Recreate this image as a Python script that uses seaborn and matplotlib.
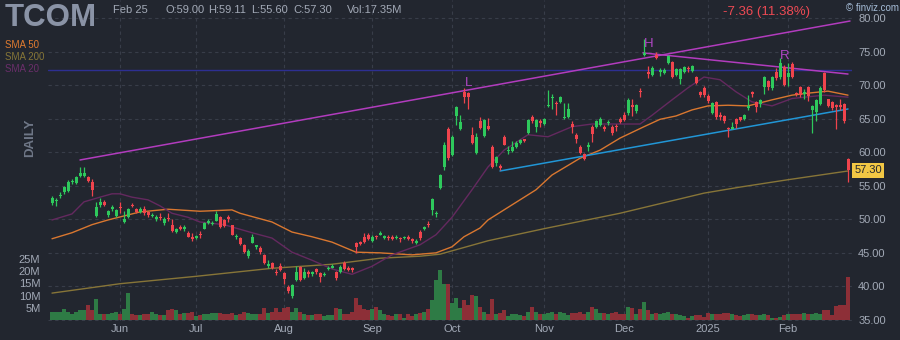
import numpy as np
import pandas as pd
import matplotlib
matplotlib.use("Agg")
import matplotlib.pyplot as plt
import matplotlib.transforms as mtransforms
import seaborn as sns

# ---------------- data ----------------
holidays = ["2024-05-27", "2024-06-19", "2024-07-04", "2024-09-02", "2024-11-28",
            "2024-12-25", "2025-01-01", "2025-01-09", "2025-01-20", "2025-02-17"]
start_date = "2024-05-08"
end_date = "2025-02-25"

opens = [
    52.4, 52.7, 53.4, 54.0, 54.2, 55.5, 55.4, 56.5, 56.4, 56.3,
    55.6, 50.5, 52.1, 52.6, 50.6, 51.6, 50.5, 51.9, 49.6, 50.3,
    52.2, 51.5, 51.1, 51.5, 51.1, 50.5, 50.1, 50.4, 49.4, 50.2,
    49.1, 48.1, 48.8, 48.6, 48.0, 47.3, 47.2, 47.8, 48.6, 49.5,
    49.3, 49.8, 50.3, 49.9, 50.3, 49.1, 47.3, 47.2, 46.2, 44.5,
    46.5, 45.9, 45.7, 44.7, 43.1, 43.5, 42.2, 43.0, 42.0, 39.9,
    38.6, 40.9, 42.9, 41.2, 42.1, 41.9, 42.6, 42.0, 41.7, 42.6,
    42.8, 42.1, 42.1, 43.5, 42.7, 42.7, 46.5, 46.6, 47.4, 47.6,
    46.7, 47.5, 47.7, 47.2, 47.4, 47.4, 47.2, 47.2, 47.2, 47.3,
    47.1, 46.5, 48.1, 48.6, 49.3, 51.4, 50.8, 54.7, 57.8, 63.5,
    59.6, 65.4, 63.5, 69.0, 68.8, 62.6, 59.9, 64.6, 62.4, 63.9,
    60.8, 58.4, 57.9, 62.3, 60.2, 60.2, 60.8, 61.4, 61.9, 62.9,
    65.2, 63.8, 64.6, 64.2, 66.9, 68.1, 67.4, 67.5, 65.1, 65.2,
    64.2, 62.6, 60.8, 59.7, 60.8, 63.8, 63.8, 64.1, 63.7, 64.3,
    63.8, 63.9, 64.9, 65.5, 65.8, 67.0, 66.1, 69.1, 74.5, 71.9,
    71.5, 74.5, 72.0, 71.8, 73.3, 73.4, 71.5, 70.9, 72.0, 72.6,
    72.1, 71.2, 69.0, 69.6, 68.4, 65.9, 67.5, 65.5, 65.4, 63.6,
    63.5, 64.9, 65.2, 64.9, 66.6, 68.9, 67.5, 67.2, 69.7, 70.6,
    69.6, 72.0, 71.2, 72.7, 71.2, 73.1, 68.8, 69.7, 68.7, 69.7,
    66.3, 66.0, 67.2, 71.8, 67.9, 67.5, 67.0, 67.0, 67.2, 59.0,
]
highs = [
    53.5, 53.2, 54.0, 55.0, 55.8, 56.0, 56.5, 57.8, 57.8, 56.4,
    56.0, 52.6, 53.2, 52.9, 51.4, 52.1, 51.6, 52.6, 51.3, 51.7,
    52.4, 51.7, 51.8, 52.0, 51.2, 51.0, 50.6, 50.9, 50.3, 51.0,
    50.0, 48.7, 49.2, 49.2, 48.2, 47.9, 47.7, 48.3, 49.6, 50.1,
    49.8, 51.2, 50.5, 50.0, 50.6, 49.2, 47.8, 47.3, 46.3, 45.5,
    47.8, 46.2, 46.0, 44.8, 43.9, 43.6, 42.6, 43.5, 42.1, 40.2,
    40.3, 43.0, 43.0, 42.8, 42.5, 42.3, 42.8, 42.1, 42.1, 43.0,
    43.3, 42.3, 43.2, 43.8, 43.0, 42.9, 46.6, 46.8, 48.0, 47.9,
    47.6, 47.7, 48.3, 47.7, 47.7, 47.6, 47.6, 47.3, 47.5, 47.7,
    47.2, 47.0, 48.4, 49.0, 49.8, 53.1, 51.3, 56.8, 61.5, 63.7,
    62.5, 66.9, 65.5, 69.6, 69.0, 63.8, 62.8, 65.2, 65.0, 65.1,
    61.0, 59.5, 58.2, 62.5, 60.9, 61.6, 61.6, 62.0, 62.0, 65.0,
    65.6, 65.0, 64.9, 65.1, 69.3, 68.6, 67.6, 68.4, 67.3, 67.4,
    64.6, 62.8, 61.0, 59.9, 61.5, 64.0, 64.8, 65.3, 64.1, 64.8,
    64.0, 64.2, 65.2, 66.0, 68.1, 68.0, 67.2, 69.6, 76.9, 72.8,
    72.8, 75.0, 72.6, 72.5, 74.5, 73.6, 72.6, 72.6, 72.9, 72.9,
    73.0, 71.4, 69.1, 69.8, 68.6, 67.5, 67.7, 66.0, 65.6, 63.8,
    64.5, 65.1, 65.3, 65.7, 68.5, 69.1, 67.7, 68.0, 71.4, 70.8,
    71.4, 72.6, 74.0, 73.0, 73.3, 73.4, 69.0, 69.9, 69.4, 69.9,
    67.0, 68.0, 69.8, 72.0, 68.0, 67.7, 67.2, 68.0, 67.4, 59.11,
]
lows = [
    52.2, 52.0, 53.2, 53.8, 54.0, 55.2, 55.3, 56.3, 56.3, 55.5,
    53.5, 50.3, 51.9, 52.0, 50.4, 51.3, 50.3, 50.9, 49.5, 50.2,
    51.8, 50.9, 51.0, 50.7, 50.4, 50.3, 49.7, 49.9, 49.2, 49.8,
    48.1, 48.0, 48.4, 48.2, 47.3, 46.8, 47.0, 47.2, 48.5, 49.3,
    49.1, 49.7, 48.7, 48.9, 49.6, 47.6, 47.0, 46.2, 45.0, 44.2,
    46.4, 45.6, 44.9, 43.4, 42.8, 42.6, 41.7, 42.3, 40.4, 39.0,
    38.3, 40.8, 40.8, 41.1, 41.4, 41.5, 41.9, 40.6, 41.6, 42.5,
    42.7, 41.0, 42.0, 42.5, 42.3, 42.2, 45.0, 46.1, 46.5, 46.9,
    46.6, 47.1, 47.6, 47.1, 46.9, 46.9, 47.0, 46.6, 47.0, 46.9,
    46.5, 46.3, 46.9, 48.4, 48.9, 50.7, 50.3, 54.5, 57.4, 58.8,
    59.4, 64.0, 63.3, 67.3, 66.5, 61.2, 59.7, 63.4, 62.2, 63.3,
    57.6, 58.0, 57.4, 61.0, 59.7, 60.0, 60.6, 61.2, 61.5, 62.7,
    64.4, 63.0, 63.7, 64.0, 66.8, 66.5, 65.5, 67.3, 65.0, 65.1,
    62.9, 61.4, 59.7, 58.8, 60.2, 61.5, 63.6, 63.9, 63.2, 64.0,
    62.6, 63.2, 64.3, 64.6, 65.6, 65.4, 65.9, 68.3, 74.3, 71.0,
    71.3, 73.9, 71.4, 71.6, 73.1, 71.0, 71.3, 70.2, 71.8, 71.9,
    72.0, 70.1, 68.3, 68.3, 67.3, 65.7, 65.0, 64.8, 64.4, 62.3,
    63.4, 63.6, 64.6, 64.8, 66.3, 68.3, 66.0, 66.7, 68.6, 69.2,
    69.3, 70.8, 70.9, 69.8, 69.9, 71.0, 68.4, 68.3, 67.9, 67.7,
    62.9, 64.7, 67.0, 69.0, 66.7, 66.3, 63.5, 66.3, 64.3, 55.6,
]
closes = [
    53.2, 52.9, 53.6, 54.8, 55.6, 55.7, 56.3, 56.9, 56.9, 55.7,
    54.4, 51.8, 52.6, 52.1, 51.2, 51.8, 51.4, 51.7, 50.0, 51.5,
    52.0, 51.1, 51.5, 50.9, 50.6, 50.7, 50.3, 50.2, 50.0, 50.0,
    48.3, 48.5, 48.6, 48.8, 47.4, 47.1, 47.5, 47.6, 49.4, 49.7,
    49.5, 50.8, 48.8, 49.0, 50.1, 47.7, 47.5, 46.3, 45.1, 45.3,
    47.4, 46.1, 45.1, 43.5, 43.3, 42.7, 42.0, 42.4, 41.1, 39.3,
    40.2, 42.1, 40.9, 42.1, 41.9, 42.1, 42.1, 41.4, 41.9, 42.8,
    43.0, 41.2, 42.9, 42.6, 42.5, 42.5, 45.9, 46.3, 46.6, 47.0,
    47.4, 47.3, 47.9, 47.5, 47.2, 47.1, 47.4, 47.0, 47.3, 47.0,
    46.7, 46.7, 47.2, 48.8, 49.2, 53.0, 51.0, 56.6, 61.1, 59.1,
    62.3, 66.7, 64.5, 68.2, 68.2, 61.4, 62.3, 63.6, 64.8, 63.5,
    57.8, 59.3, 57.7, 61.1, 60.4, 60.8, 61.4, 61.8, 61.7, 64.8,
    64.6, 64.8, 64.4, 64.9, 67.1, 68.3, 67.2, 68.2, 65.3, 66.4,
    63.8, 62.0, 59.9, 59.0, 61.0, 62.7, 64.6, 64.9, 63.5, 64.5,
    62.9, 63.7, 64.5, 64.8, 67.8, 66.7, 67.0, 68.9, 74.8, 71.7,
    72.6, 74.0, 72.2, 72.2, 74.3, 71.2, 72.4, 72.4, 72.7, 72.4,
    72.8, 70.3, 68.5, 68.5, 67.6, 67.3, 65.2, 65.3, 64.6, 63.4,
    63.7, 64.2, 64.8, 65.5, 66.9, 68.7, 66.7, 67.8, 71.2, 69.7,
    71.2, 71.1, 73.3, 70.0, 71.8, 71.2, 68.6, 68.5, 68.9, 68.4,
    66.9, 67.8, 69.6, 69.3, 66.9, 66.6, 66.8, 66.8, 64.66, 57.3,
]
volumes_m = [
    3.4, 3.4, 3.4, 4.4, 3.4, 2.3, 3.4, 3.9, 3.9, 6.0,
    3.9, 8.4, 2.6, 2.6, 2.6, 3.0, 3.4, 2.3, 4.4, 11.2,
    2.3, 2.0, 2.0, 2.3, 2.6, 3.4, 2.3, 1.9, 1.9, 3.9,
    4.4, 3.9, 2.3, 3.0, 3.0, 3.4, 1.5, 1.9, 2.3, 2.3,
    3.0, 3.0, 3.0, 2.6, 2.3, 3.0, 1.9, 2.6, 3.4, 3.0,
    2.3, 2.6, 2.6, 4.8, 3.0, 3.4, 5.0, 3.4, 5.0, 5.4,
    3.4, 4.8, 3.4, 2.6, 1.9, 1.9, 2.3, 2.6, 1.5, 2.0,
    1.9, 5.0, 4.4, 2.3, 2.3, 3.4, 9.1, 6.0, 4.4, 3.9,
    4.4, 5.4, 3.9, 2.3, 1.9, 1.5, 2.6, 2.6, 1.0, 2.3,
    1.5, 2.3, 3.0, 3.4, 4.4, 8.0, 16.2, 20.3, 14.8, 14.8,
    6.8, 9.1, 5.0, 8.0, 6.0, 10.1, 9.7, 5.4, 3.4, 2.6,
    8.4, 2.6, 3.0, 3.9, 1.5, 2.3, 2.6, 1.9, 1.5, 3.4,
    5.4, 3.4, 2.3, 2.6, 3.0, 3.4, 2.6, 3.4, 3.0, 2.0,
    3.0, 3.0, 3.4, 2.6, 3.4, 5.4, 4.4, 3.0, 3.0, 2.6,
    3.0, 3.4, 2.3, 2.3, 5.4, 4.8, 2.3, 4.4, 7.5, 3.9,
    2.3, 3.0, 2.6, 3.0, 3.4, 2.3, 2.3, 1.9, 1.5, 1.0,
    1.5, 1.9, 1.9, 1.2, 3.0, 2.6, 2.3, 2.3, 3.0, 3.0,
    2.3, 1.9, 1.5, 1.9, 2.6, 2.6, 2.0, 2.0, 2.6, 1.9,
    1.0, 1.0, 1.2, 1.9, 2.3, 2.3, 2.6, 2.3, 3.0, 2.6,
    2.6, 3.0, 2.3, 3.9, 3.9, 1.9, 5.7, 6.0, 6.0, 17.35,
]

# moving averages (trading-day index, price)
sma20_idx = [0, 5, 8, 12, 15, 17, 20, 24, 27, 30, 34, 37, 43, 50, 55, 60, 65, 70, 75, 80,
             85, 92, 96, 100, 105, 109, 113, 119, 124, 130, 135, 142, 147, 150, 155, 159,
             163, 167, 171, 175, 180, 185, 193, 199]
sma20_val = [49.9, 50.8, 52.6, 53.3, 53.8, 53.8, 53.3, 52.9, 52.0, 50.9, 50.3, 49.6, 49.2,
             48.0, 47.2, 45.1, 43.9, 42.6, 41.8, 43.0, 44.7, 46.2, 47.7, 50.3, 54.4, 57.8,
             60.3, 62.6, 62.3, 63.8, 64.2, 64.2, 64.2, 65.5, 67.8, 69.6, 71.2, 70.8, 69.0,
             67.5, 66.9, 68.0, 68.5, 68.2]
sma50_idx = [0, 5, 10, 14, 18, 22, 29, 37, 45, 47, 55, 60, 65, 70, 76, 82, 90, 96, 100, 103,
             107, 109, 117, 121, 125, 132, 137, 142, 148, 152, 156, 160, 164, 169, 174, 180,
             185, 189, 194, 199]
sma50_val = [47.1, 48.0, 49.2, 49.9, 50.5, 51.1, 51.5, 51.2, 51.4, 50.9, 49.6, 48.1, 47.4,
             46.6, 45.1, 45.0, 44.7, 45.0, 45.9, 47.4, 48.7, 49.9, 52.9, 54.4, 56.6, 59.1,
             60.3, 62.1, 63.8, 64.9, 65.4, 66.3, 66.9, 67.0, 66.9, 67.8, 68.5, 68.8, 69.1, 68.5]
sma200_idx = [0, 17, 36, 55, 70, 82, 92, 97, 109, 123, 142, 163, 172, 184, 199]
sma200_val = [39.0, 40.4, 41.5, 42.7, 43.3, 44.2, 44.5, 44.8, 46.8, 48.6, 50.9, 53.9, 54.8,
              55.9, 57.2]

# drawn trendlines (index, price)
upper_trend_idx = [7, 199.5]
upper_trend_val = [58.84, 79.55]
hr_trend_idx = [147.75, 199]
hr_trend_val = [74.8, 71.65]
support_idx = [112, 199]
support_val = [57.2, 66.44]
resistance_level = 72.2
pattern_labels = ["L", "H", "R"]
pattern_idx = [104.25, 149.25, 183.25]
pattern_val = [70.3, 76.1, 74.3]

ticker = "TCOM"
info_date = "Feb 25"
info_ohlc = ["O:59.00", "H:59.11", "L:55.60", "C:57.30"]
info_vol = "Vol:17.35M"
change_text = "-7.36 (11.38%)"
last_price = 57.30
price_ticks = [35, 40, 45, 50, 55, 60, 65, 70, 75, 80]
vol_ticks = [5, 10, 15, 20, 25]

# ---------------- style ----------------
BG = "#22262f"
GRID = "#383d49"
TXT = "#a3aab7"
UP = "#2ec95c"
DN = "#f0444d"
VUP = "#2e7b45"
VDN = "#8d2f37"

sns.set_style("dark")
plt.rcParams["font.family"] = ["Liberation Sans", "DejaVu Sans"]

dates = pd.bdate_range(start_date, end_date, freq="C", holidays=holidays)
n = len(closes)
x = np.arange(n)
month_pos = [i for i in range(1, len(dates)) if dates[i].month != dates[i - 1].month]
month_lab = [str(dates[i].year) if dates[i].month == 1 else dates[i].strftime("%b") for i in month_pos]

W, H = 900, 340
fig = plt.figure(figsize=(W / 100, H / 100), dpi=100, facecolor=BG)
rect = [48 / W, (H - 321) / H, 804 / W, 321 / H]
ax = fig.add_axes(rect, zorder=1)
axv = fig.add_axes(rect, zorder=2)
ax.set_facecolor(BG)
axv.patch.set_alpha(0)

px_per_unit = 6.71
ax.set_xlim(-1, 200)
ax.set_ylim(80 - (321 - 18) / px_per_unit, 80 + 18 / px_per_unit)
axv.set_xlim(-1, 200)
axv.set_ylim(-1 / 2.45, 320 / 2.45)

for a in (ax, axv):
    for s in a.spines.values():
        s.set_visible(False)
    a.grid(False)

# grid
for p in price_ticks:
    ax.axhline(p, color=GRID, lw=0.8, ls=(0, (3, 3)), zorder=0)
for m in month_pos:
    ax.axvline(m, color=GRID, lw=0.8, ls=(0, (3, 3)), zorder=0)

# volume
o = np.array(opens); c = np.array(closes); hi = np.array(highs); lo = np.array(lows)
up = c >= o
axv.bar(x, volumes_m, width=0.92, color=np.where(up, VUP, VDN), linewidth=0)

# moving averages
sns.lineplot(x=sma200_idx, y=sma200_val, ax=ax, color="#877538", lw=1.0, estimator=None, zorder=2)
sns.lineplot(x=sma50_idx, y=sma50_val, ax=ax, color="#d9772f", lw=1.0, estimator=None, zorder=2)
sns.lineplot(x=sma20_idx, y=sma20_val, ax=ax, color="#64295f", lw=1.0, estimator=None, zorder=2)

# trendlines
ax.axhline(resistance_level, color="#2d2f92", lw=1.0, zorder=2)
sns.lineplot(x=upper_trend_idx, y=upper_trend_val, ax=ax, color="#b23cbe", lw=1.1, estimator=None, zorder=2)
sns.lineplot(x=hr_trend_idx, y=hr_trend_val, ax=ax, color="#b23cbe", lw=1.1, estimator=None, zorder=2)
sns.lineplot(x=support_idx, y=support_val, ax=ax, color="#2196d6", lw=1.1, estimator=None, zorder=2)

# candles
ax.vlines(x, lo, hi, colors=np.where(up, UP, DN), lw=0.9, zorder=3)
body_lo = np.minimum(o, c)
body_h = np.maximum(np.abs(c - o), 0.15)
ax.bar(x, body_h, bottom=body_lo, width=0.75, color=np.where(up, UP, DN), linewidth=0, zorder=4)

for lab, xi, yi in zip(pattern_labels, pattern_idx, pattern_val):
    ax.text(xi, yi, lab, color="#b046c4", fontsize=9.5, ha="center", va="center", zorder=5)

# axes ticks
ax.yaxis.tick_right()
ax.set_yticks(price_ticks)
ax.set_yticklabels([f"{p:.2f}" for p in price_ticks])
ax.tick_params(axis="y", length=0, pad=4.5, labelsize=8, labelcolor=TXT)
ax.set_xticks(month_pos)
ax.set_xticklabels(month_lab)
ax.tick_params(axis="x", length=0, pad=2, labelsize=8, labelcolor=TXT)
ax.set_xlabel(""); ax.set_ylabel("")

axv.set_yticks(vol_ticks)
axv.set_yticklabels([f"{v}M" for v in vol_ticks])
axv.tick_params(axis="y", length=0, pad=5.5, labelsize=8, labelcolor=TXT)
axv.set_xticks([])

# last price tag
trans = mtransforms.blended_transform_factory(ax.transAxes, ax.transData)
ax.text(1.003, last_price, f"{last_price:.2f}", transform=trans, ha="left", va="center",
        fontsize=8, color="#22262f", zorder=6,
        bbox=dict(boxstyle="square,pad=0.22", fc="#f2c744", ec="none"))

# header texts
def ft(xp, yp, s, **kw):
    fig.text(xp / W, 1 - yp / H, s, **kw)

ft(5, 26, ticker, fontsize=22.5, fontweight="bold", color="#8a93a6", va="baseline")
ft(113, 13, info_date, fontsize=8, color=TXT, va="baseline")
for xp, s in zip([165, 208, 251, 293], info_ohlc):
    ft(xp, 13, s, fontsize=8, color=TXT, va="baseline")
ft(347, 13, info_vol, fontsize=8, color=TXT, va="baseline")
ft(723, 15, change_text, fontsize=9.5, color="#ee4a54", va="baseline")
ft(846, 11, "\u00a9 finviz.com", fontsize=7, color="#a6bdd8", va="baseline")

ft(5, 47.5, "SMA 50", fontsize=7, color="#e07b2f", va="baseline")
ft(5, 59.5, "SMA 200", fontsize=7, color="#867637", va="baseline")
ft(5, 71.5, "SMA 20", fontsize=7, color="#6b2e6b", va="baseline")
ft(30, 137.5, "DAILY", fontsize=9.5, fontweight="bold", color="#6f7787",
   rotation=90, ha="center", va="center")

fig.savefig("out.png", dpi=100, facecolor=BG)
